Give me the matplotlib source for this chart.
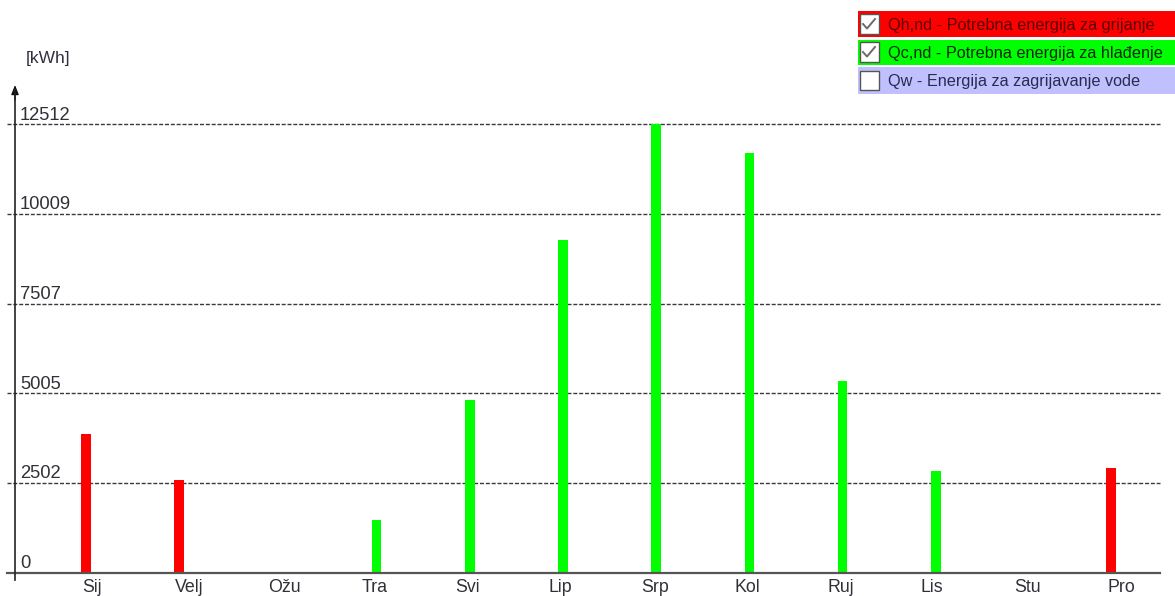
import matplotlib
matplotlib.use("Agg")
import matplotlib.pyplot as plt
from matplotlib.patches import Rectangle
from matplotlib.lines import Line2D
from matplotlib.transforms import blended_transform_factory

plt.rcParams['font.family'] = ['Liberation Sans', 'DejaVu Sans']

# Monthly energy demand [kWh]
months = ["Sij", "Velj", "Ožu", "Tra", "Svi", "Lip", "Srp", "Kol", "Ruj", "Lis", "Stu", "Pro"]
heating = [3867, 2582, 0, 0, 0, 0, 0, 0, 0, 0, 0, 2926]
cooling = [0, 0, 0, 1466, 4816, 9283, 12512, 11703, 5355, 2842, 0, 0]
y_ticks = [0, 2502, 5005, 7507, 10009, 12512]
legend_labels = ["Qh,nd - Potrebna energija za grijanje",
                 "Qc,nd - Potrebna energija za hlađenje",
                 "Qw - Energija za zagrijavanje vode"]
legend_checked = [True, True, False]

W, H = 1175, 596
fig = plt.figure(figsize=(W / 100, H / 100), dpi=100)
fig.patch.set_facecolor("white")

# Axes spans the whole canvas; limits chosen so that month slots are
# 93.2 px apart starting at 97 px and the zero line sits at 572.5 px.
ax = fig.add_axes([0, 0, 1, 1])
step_px, x0_px = 93.2, 97.0
px_per_kwh = 448.2 / 12512
base_px = 572.5
ax.set_xlim(-x0_px / step_px, (W - x0_px) / step_px)
ax.set_ylim(-(H - base_px) / px_per_kwh, base_px / px_per_kwh)
ax.axis("off")

def fx(px):
    return px / W

def fy(py):
    return 1 - py / H

bx = blended_transform_factory(ax.transAxes, ax.transData)

x = list(range(len(months)))
bar_w = 9.5 / step_px
offset = 11.0 / step_px
ax.bar([i - offset for i in x], heating, width=bar_w, color="#ff0000", zorder=3)
ax.bar(x, cooling, width=bar_w, color="#00ff00", zorder=3)

# Dashed grid lines and value labels
for v in y_ticks:
    if v > 0:
        ax.plot([fx(7), fx(1160)], [v, v], transform=bx, color="#3a3a3a",
                lw=1.0, linestyle=(0, (2.9, 1.3)), zorder=2)
    ax.text(fx(20), v + 4.5 / px_per_kwh, str(v), transform=bx,
            ha="left", va="baseline", fontsize=13.2, color="#303038", zorder=4)

# Horizontal axis line
ax.plot([fx(7), fx(1160)], [0, 0], transform=bx, color="#555555", lw=1.6, zorder=4)

# Vertical axis with arrow
fig.add_artist(Line2D([fx(15), fx(15)], [fy(580), fy(90)], color="#222222", lw=1.2))
ax.annotate("", xy=(fx(15), fy(85)), xytext=(fx(15), fy(100)),
            xycoords="figure fraction", textcoords="figure fraction",
            arrowprops=dict(arrowstyle="-|>,head_width=0.22,head_length=0.55",
                            color="#111111", lw=1.0, shrinkA=0, shrinkB=0))

fig.text(fx(26), fy(63), "[kWh]", ha="left", va="baseline", fontsize=12.5, color="#303040")

# Month labels
for i, m in enumerate(months):
    ax.text(i - 15 / step_px, 0 - 19 / px_per_kwh, m, ha="left", va="baseline",
            fontsize=12.8, color="#303038", zorder=4)

# Legend panel with check boxes
rows = [(11.5, 36.5, "#ff0000", "#5a0000"),
        (39.5, 64.5, "#00ff00", "#002a00"),
        (67.0, 93.5, "#c0c0ff", "#2a2a50")]
for (top, bot, bg, tc), label, checked in zip(rows, legend_labels, legend_checked):
    fig.add_artist(Rectangle((fx(858), fy(bot)), fx(W) - fx(858), fy(top) - fy(bot),
                             facecolor=bg, edgecolor="none", transform=fig.transFigure))
    cy = (top + bot) / 2
    fig.add_artist(Rectangle((fx(859.5), fy(cy + 9.5)), fx(19) - fx(0), fy(0) - fy(19),
                             facecolor="white", edgecolor="#555555", lw=1.0,
                             transform=fig.transFigure))
    if checked:
        fig.add_artist(Line2D([fx(863), fx(867), fx(875)],
                              [fy(cy), fy(cy + 4.5), fy(cy - 5)],
                              color="#6a6a6a", lw=1.4, transform=fig.transFigure))
    fig.text(fx(888), fy(cy), label, ha="left", va="center_baseline",
             fontsize=11.7, color=tc)

fig.savefig("out.png", dpi=100, facecolor="white")
